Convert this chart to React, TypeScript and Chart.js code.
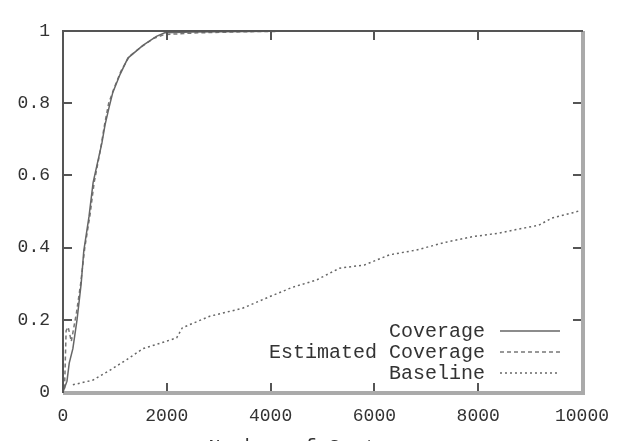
import React, { useEffect, useRef } from "react";
import { Chart, registerables } from "chart.js";

Chart.register(...registerables);

// ---- data ----
const xTickValues = [0, 2000, 4000, 6000, 8000, 10000];
const yTickValues = [0, 0.2, 0.4, 0.6, 0.8, 1];
const seriesNames = ["Coverage", "Estimated Coverage", "Baseline"];
const xAxisTitle = "Number of Sentences";

const coverageX = [0, 77, 120, 190, 270, 350, 400, 500, 580, 750, 810, 890, 960, 1100, 1250, 1540, 1800, 1960, 2500, 3000, 4000, 4800];
const coverageY = [0, 0.03, 0.08, 0.12, 0.2, 0.3, 0.39, 0.485, 0.58, 0.69, 0.74, 0.79, 0.83, 0.88, 0.925, 0.96, 0.985, 0.995, 0.997, 0.998, 0.999, 1.0];

const estimatedX = [30, 60, 100, 160, 260, 340, 420, 520, 600, 720, 800, 880, 980, 1120, 1280, 1500, 1750, 1950, 2600, 3500, 4750];
const estimatedY = [0.01, 0.17, 0.18, 0.14, 0.22, 0.3, 0.4, 0.49, 0.58, 0.67, 0.74, 0.8, 0.84, 0.89, 0.93, 0.955, 0.98, 0.99, 0.995, 0.998, 1.0];

const baselineX = [190, 580, 900, 1230, 1540, 1870, 2190, 2300, 2830, 3460, 3980, 4420, 4880, 5330, 5810, 6290, 6800, 7380, 7880, 8400, 8730, 9170, 9420, 9810, 10000];
const baselineY = [0.02, 0.033, 0.06, 0.09, 0.12, 0.135, 0.15, 0.178, 0.21, 0.232, 0.264, 0.29, 0.31, 0.343, 0.352, 0.38, 0.393, 0.415, 0.43, 0.44, 0.45, 0.462, 0.482, 0.496, 0.504];

const FONT = "'Liberation Mono', 'DejaVu Sans Mono', monospace";
const TEXT = "#333";

const toPoints = (xs: number[], ys: number[]) => xs.map((x, i) => ({ x, y: ys[i] }));

const framePlugin = {
  id: "gnuplotFrame",
  afterDraw(chart: any) {
    const { ctx, chartArea } = chart;
    const { left, right, top, bottom } = chartArea;
    const xs = chart.scales.x;
    const ys = chart.scales.y;
    const tl = 9;
    ctx.save();
    ctx.strokeStyle = "#555";
    ctx.lineWidth = 2;
    xTickValues.forEach((v) => {
      if (v === xs.min || v === xs.max) return;
      const px = Math.round(xs.getPixelForValue(v));
      ctx.beginPath();
      ctx.moveTo(px, bottom);
      ctx.lineTo(px, bottom - tl);
      ctx.moveTo(px, top);
      ctx.lineTo(px, top + tl);
      ctx.stroke();
    });
    yTickValues.forEach((v) => {
      if (v === ys.min || v === ys.max) return;
      const py = Math.round(ys.getPixelForValue(v));
      ctx.beginPath();
      ctx.moveTo(left, py);
      ctx.lineTo(left + tl, py);
      ctx.moveTo(right, py);
      ctx.lineTo(right - tl, py);
      ctx.stroke();
    });
    // frame
    ctx.strokeStyle = "#aaa";
    ctx.lineWidth = 4;
    ctx.beginPath();
    ctx.moveTo(left, bottom + 1);
    ctx.lineTo(right + 1, bottom + 1);
    ctx.lineTo(right + 1, top);
    ctx.stroke();
    ctx.strokeStyle = "#555";
    ctx.lineWidth = 2;
    ctx.beginPath();
    ctx.moveTo(left, bottom + 1);
    ctx.lineTo(left, top);
    ctx.lineTo(right + 1, top);
    ctx.stroke();
    ctx.restore();
  },
};

const legendPlugin = {
  id: "gnuplotLegend",
  afterDatasetsDraw(chart: any) {
    const { ctx, chartArea } = chart;
    const { right, bottom } = chartArea;
    ctx.save();
    ctx.font = `20px ${FONT}`;
    ctx.fillStyle = TEXT;
    ctx.textAlign = "right";
    ctx.textBaseline = "middle";
    chart.data.datasets.forEach((ds: any, i: number) => {
      const y = bottom - 61 + i * 21;
      ctx.fillText(ds.label, right - 97, y + 1);
      ctx.beginPath();
      ctx.strokeStyle = ds.borderColor;
      ctx.lineWidth = ds.borderWidth;
      ctx.setLineDash(ds.borderDash || []);
      ctx.moveTo(right - 82, y);
      ctx.lineTo(right - 22, y);
      ctx.stroke();
    });
    ctx.restore();
  },
};

export default function App() {
  const ref = useRef<HTMLCanvasElement | null>(null);

  useEffect(() => {
    if (!ref.current) return;
    const chart = new Chart(ref.current, {
      type: "line",
      data: {
        datasets: [
          {
            label: seriesNames[0],
            data: toPoints(coverageX, coverageY),
            borderColor: "#666",
            borderWidth: 1.5,
            borderDash: [],
            pointRadius: 0,
            tension: 0,
            fill: false,
          },
          {
            label: seriesNames[1],
            data: toPoints(estimatedX, estimatedY),
            borderColor: "#777",
            borderWidth: 1.5,
            borderDash: [4, 3],
            pointRadius: 0,
            tension: 0,
            fill: false,
          },
          {
            label: seriesNames[2],
            data: toPoints(baselineX, baselineY),
            borderColor: "#666",
            borderWidth: 1.5,
            borderDash: [2, 3],
            pointRadius: 0,
            tension: 0,
            fill: false,
          },
        ],
      },
      options: {
        responsive: false,
        animation: false,
        devicePixelRatio: 1,
        layout: { padding: { top: 31, right: 38, left: 0, bottom: 0 } },
        plugins: { legend: { display: false }, tooltip: { enabled: false }, title: { display: false } },
        scales: {
          x: {
            type: "linear",
            min: 0,
            max: 10000,
            afterBuildTicks: (s: any) => {
              s.ticks = xTickValues.map((v) => ({ value: v }));
            },
            ticks: {
              font: { family: FONT, size: 18 },
              color: TEXT,
              padding: 13,
              maxRotation: 0,
              callback: (v: any) => String(v),
            },
            grid: { display: false, drawTicks: false },
            border: { display: false },
            title: {
              display: true,
              text: xAxisTitle,
              font: { family: FONT, size: 20 },
              color: TEXT,
              padding: { top: 0, bottom: 0 },
            },
            afterFit: (s: any) => {
              s.height = 68;
            },
          },
          y: {
            type: "linear",
            min: 0,
            max: 1,
            afterBuildTicks: (s: any) => {
              s.ticks = yTickValues.map((v) => ({ value: v }));
            },
            ticks: {
              font: { family: FONT, size: 18 },
              color: TEXT,
              padding: 13,
              callback: (v: any) => String(Math.round(Number(v) * 10) / 10),
            },
            grid: { display: false, drawTicks: false },
            border: { display: false },
            afterFit: (s: any) => {
              s.width = 63;
            },
          },
        },
      },
      plugins: [framePlugin, legendPlugin],
    } as any);
    return () => chart.destroy();
  }, []);

  return (
    <div style={{ position: "fixed", left: 0, top: 0, width: 622, height: 441, overflow: "hidden", background: "#fff" }}>
      <canvas ref={ref} width={622} height={460} style={{ display: "block" }} />
    </div>
  );
}
